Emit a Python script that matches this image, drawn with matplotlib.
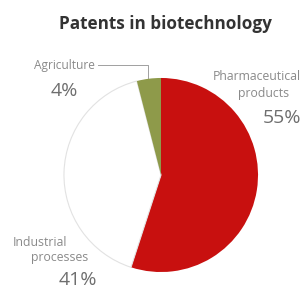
import matplotlib.pyplot as plt

categories = ["Pharmaceutical products", "Industrial processes", "Agriculture"]
values = [55, 41, 4]
colors = ["#C8100F", "#FFFFFF", "#8E9A4A"]

fig = plt.figure(figsize=(3.08, 3.02), dpi=100)
fig.patch.set_facecolor("white")
ax = fig.add_axes([0.0, 0.0, 1.0, 1.0])
ax.set_xlim(0, 308)
ax.set_ylim(302, 0)
ax.axis("off")

cx, cy, r = 161, 175, 98
pax = fig.add_axes([(cx - r) / 308, 1 - (cy + r) / 302, 2 * r / 308, 2 * r / 302])
wedges, _ = pax.pie(values, colors=colors, startangle=90, counterclock=False,
                    wedgeprops=dict(edgecolor="none"))
wedges[1].set_edgecolor("#E2E2E2")
wedges[1].set_linewidth(0.8)
pax.set_xlim(-1.01, 1.01)
pax.set_ylim(-1.01, 1.01)
pax.set_aspect("auto")
pax.axis("off")

lab = "#8A8A8A"
pct = "#6E6E6E"
fam = "Open Sans"
fig.text(165 / 308, 1 - 24 / 302, "Patents in biotechnology", ha="center", va="center",
         fontsize=12.3, fontweight="bold", color="#333333", family=fam)

ax.text(64, 66, "Agriculture", ha="center", va="center", fontsize=8.6, color=lab, family=fam)
ax.plot([98, 148, 148], [65, 65, 78], color="#A0A0A0", lw=0.7)
ax.text(64, 91, f"{values[2]}%", ha="center", va="center", fontsize=14, color=pct, family=fam)

ax.text(257, 77, "Pharmaceutical", ha="center", va="center", fontsize=8.8, color=lab, family=fam)
ax.text(264, 93, "products", ha="center", va="center", fontsize=8.8, color=lab, family=fam)
ax.text(282, 118, f"{values[0]}%", ha="center", va="center", fontsize=14, color=pct, family=fam)

ax.text(40, 242, "Industrial", ha="center", va="center", fontsize=8.8, color=lab, family=fam)
ax.text(60, 258, "processes", ha="center", va="center", fontsize=8.8, color=lab, family=fam)
ax.text(78, 280, f"{values[1]}%", ha="center", va="center", fontsize=14, color=pct, family=fam)

fig.savefig("out.png", dpi=100, facecolor="white")
